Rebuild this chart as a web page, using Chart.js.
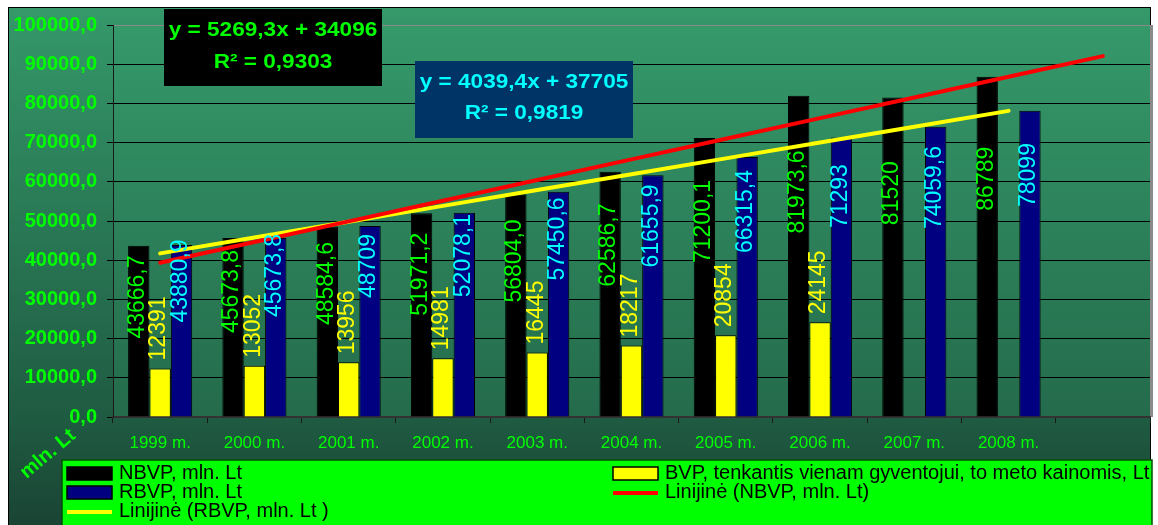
<!DOCTYPE html>
<html>
<head>
<meta charset="utf-8">
<script src="https://cdn.jsdelivr.net/npm/chart.js@4.4.1/dist/chart.umd.min.js"></script>
<style>
html,body{margin:0;padding:0;background:#fff;overflow:hidden}
#wrap{width:1158px;height:525px;position:relative}
</style>
</head>
<body>
<div id="wrap"><canvas id="c" width="1158" height="525"></canvas></div>
<script>
// ---- data ----
const categories = ['1999 m.', '2000 m.', '2001 m.', '2002 m.', '2003 m.', '2004 m.', '2005 m.', '2006 m.', '2007 m.', '2008 m.', ''];
const nbvp = [43666.7, 45673.8, 48584.6, 51971.2, 56804.0, 62586.7, 71200.1, 81973.6, 81520, 86789, null];
const nbvpLabels = ['43666,7', '45673,8', '48584,6', '51971,2', '56804,0', '62586,7', '71200,1', '81973,6', '81520', '86789'];
const bvp = [12391, 13052, 13956, 14981, 16445, 18217, 20854, 24145, null, null, null];
const bvpLabels = ['12391', '13052', '13956', '14981', '16445', '18217', '20854', '24145'];
const rbvp = [43880.9, 45673.8, 48709, 52078.1, 57450.6, 61655.9, 66315.4, 71293, 74059.6, 78099, null];
const rbvpLabels = ['43880,9', '45673,8', '48709', '52078,1', '57450,6', '61655,9', '66315,4', '71293', '74059,6', '78099'];
const trendNbvp = [39365.3, 44634.6, 49903.9, 55173.2, 60442.5, 65711.8, 70981.1, 76250.4, 81519.7, 86789.0, 92058.3];
const trendRbvp = [41744.4, 45783.8, 49823.2, 53862.6, 57902.0, 61941.4, 65980.8, 70020.2, 74059.6, 78099.0, null];
const eqNbvp = ['y = 5269,3x + 34096', 'R\u00B2 = 0,9303'];
const eqRbvp = ['y = 4039,4x + 37705', 'R\u00B2 = 0,9819'];
const yAxisTitle = 'mln. Lt';
const seriesNames = ['NBVP, mln. Lt', 'BVP, tenkantis vienam gyventojui, to meto kainomis, Lt', 'RBVP, mln. Lt', 'Linijin\u0117 (NBVP, mln. Lt)', 'Linijin\u0117 (RBVP, mln. Lt )'];

const FONT = '"Liberation Sans", Arial, Helvetica, sans-serif';

const decorPlugin = {
  id: 'decor',
  beforeDraw(chart) {
    const ctx = chart.ctx, ca = chart.chartArea;
    ctx.save();
    ctx.fillStyle = '#ffffff';
    ctx.fillRect(0, 0, chart.width, chart.height);
    const g = ctx.createLinearGradient(0, 7, 0, 525);
    g.addColorStop(0, '#35996a');
    g.addColorStop(0.79, '#1f5b42');
    g.addColorStop(1, '#1a4434');
    ctx.fillStyle = g;
    ctx.fillRect(8, 7, 1142, 518);
    ctx.strokeStyle = '#000';
    ctx.lineWidth = 1;
    ctx.strokeRect(8.5, 7.5, 1142, 520);
    const pg = ctx.createLinearGradient(0, ca.top, 0, ca.bottom);
    pg.addColorStop(0, '#35996a');
    pg.addColorStop(1, '#246b4b');
    ctx.fillStyle = pg;
    ctx.fillRect(ca.left, ca.top, ca.right - ca.left, ca.bottom - ca.top);
    ctx.fillStyle = '#8a8a8a';
    ctx.fillRect(ca.right, ca.top, 3, ca.bottom - ca.top);
    ctx.restore();
  },
  afterDatasetsDraw(chart) {
    const ctx = chart.ctx;
    ctx.save();
    chart.data.datasets.forEach((ds, i) => {
      if (!ds.valueLabels) return;
      const meta = chart.getDatasetMeta(i);
      ctx.font = '23px ' + FONT;
      ctx.fillStyle = ds.labelColor;
      ctx.textAlign = 'center';
      ctx.textBaseline = 'middle';
      meta.data.forEach((el, j) => {
        const txt = ds.valueLabels[j];
        if (txt === undefined || ds.data[j] === null) return;
        const h = el.base - el.y;
        const w = ctx.measureText(txt).width;
        let cy;
        if (ds.labelAnchor === 'outside') cy = el.y - 8 - w / 2;
        else cy = el.base - ds.labelAnchor * h;
        ctx.save();
        ctx.translate(el.x - 1, cy);
        ctx.rotate(-Math.PI / 2);
        ctx.fillText(txt, 0, 0);
        ctx.restore();
      });
    });
    ctx.restore();
  },
  afterDraw(chart) {
    const ctx = chart.ctx;
    ctx.save();
    const drawEq = (bx, by, bw, bh, lines, ly, fill, color) => {
      ctx.fillStyle = fill;
      ctx.fillRect(bx, by, bw, bh);
      ctx.fillStyle = color;
      ctx.font = 'bold 20px ' + FONT;
      ctx.textAlign = 'center';
      ctx.textBaseline = 'middle';
      lines.forEach((t, k) => {
        ctx.save();
        ctx.translate(bx + bw / 2, by + ly[k]);
        ctx.scale(1.13, 1);
        ctx.fillText(t, 0, 0);
        ctx.restore();
      });
    };
    drawEq(164, 9, 218, 77, eqNbvp, [21, 53], '#000000', '#00ff00');
    drawEq(415, 61, 218, 77, eqRbvp, [21, 52], '#003366', '#00ffff');

    ctx.save();
    ctx.translate(48, 454);
    ctx.rotate(-40 * Math.PI / 180);
    ctx.font = 'bold 20px ' + FONT;
    ctx.fillStyle = '#00ff00';
    ctx.textAlign = 'center';
    ctx.textBaseline = 'middle';
    ctx.fillText(yAxisTitle, 0, 0);
    ctx.restore();

    ctx.fillStyle = '#00ff00';
    ctx.fillRect(62, 460, 1090, 70);
    ctx.strokeStyle = '#004d00';
    ctx.lineWidth = 1.5;
    ctx.strokeRect(62, 460, 1090, 70);
    const colX = [67, 613];
    const rowY = [473, 492, 511];
    ctx.font = '20px ' + FONT;
    ctx.textAlign = 'left';
    ctx.textBaseline = 'middle';
    chart.data.datasets.forEach((ds, i) => {
      const x = colX[i % 2], y = rowY[Math.floor(i / 2)];
      if (ds.type === 'line') {
        ctx.strokeStyle = ds.borderColor;
        ctx.lineWidth = 4;
        ctx.beginPath();
        ctx.moveTo(x, y + 1);
        ctx.lineTo(x + 45, y + 1);
        ctx.stroke();
      } else {
        ctx.fillStyle = ds.backgroundColor;
        ctx.fillRect(x, y - 6, 45, 13);
        ctx.strokeStyle = '#000';
        ctx.lineWidth = 1.5;
        ctx.strokeRect(x, y - 6, 45, 13);
      }
      ctx.fillStyle = '#000';
      ctx.fillText(ds.label, x + 52, y);
    });
    ctx.restore();
  }
};

new Chart(document.getElementById('c'), {
  type: 'bar',
  data: {
    labels: categories,
    datasets: [
      { type: 'bar', label: seriesNames[0], data: nbvp, backgroundColor: '#000000', borderColor: '#000000', borderWidth: 1, order: 1,
        valueLabels: nbvpLabels, labelColor: '#00ff00', labelAnchor: 0.70 },
      { type: 'bar', label: seriesNames[1], data: bvp, backgroundColor: '#ffff00', borderColor: '#000000', borderWidth: 1, order: 1,
        valueLabels: bvpLabels, labelColor: '#ffff00', labelAnchor: 'outside' },
      { type: 'bar', label: seriesNames[2], data: rbvp, backgroundColor: '#000080', borderColor: '#000000', borderWidth: 1, order: 1,
        valueLabels: rbvpLabels, labelColor: '#00ffff', labelAnchor: 0.79 },
      { type: 'line', label: seriesNames[3], data: trendNbvp, borderColor: '#ff0000', backgroundColor: '#ff0000', borderWidth: 4,
        pointRadius: 0, fill: false, order: 0, borderCapStyle: 'round', tension: 0 },
      { type: 'line', label: seriesNames[4], data: trendRbvp, borderColor: '#ffff00', backgroundColor: '#ffff00', borderWidth: 4,
        pointRadius: 0, fill: false, order: 0, borderCapStyle: 'round', tension: 0 }
    ]
  },
  options: {
    responsive: false,
    animation: false,
    devicePixelRatio: 1,
    layout: { padding: { top: 25, right: 8, bottom: 0, left: 0 } },
    datasets: { bar: { categoryPercentage: 0.68, barPercentage: 1.0 } },
    plugins: { legend: { display: false }, tooltip: { enabled: false } },
    scales: {
      x: {
        ticks: { color: '#00ff00', font: { family: FONT, size: 17 }, padding: 10, maxRotation: 0, autoSkip: false },
        grid: { drawOnChartArea: false, drawTicks: true, tickLength: 6, color: '#1a1a1a', offset: true },
        border: { color: '#333333', width: 2 },
        afterFit(s) { s.height = 108; }
      },
      y: {
        min: 0, max: 100000,
        ticks: { stepSize: 10000, color: '#00ff00', font: { family: FONT, size: 20, weight: 'bold' }, padding: 10,
          callback: v => v.toFixed(1).replace('.', ',') },
        grid: { color: c => (c.tick && c.tick.value === 100000) ? '#8a8a8a' : '#000000', lineWidth: 1, tickLength: 6, tickColor: '#000000' },
        border: { color: '#1a1a1a', width: 1 },
        afterFit(s) { s.width = 113; }
      }
    }
  },
  plugins: [decorPlugin]
});
</script>
</body>
</html>
